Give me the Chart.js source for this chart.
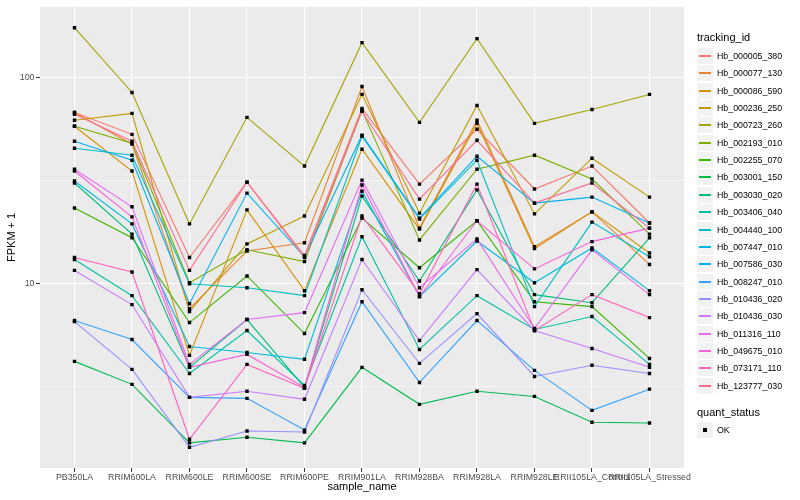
<!DOCTYPE html>
<html><head><meta charset="utf-8">
<script src="https://cdn.jsdelivr.net/npm/chart.js@4.4.0/dist/chart.umd.min.js"></script>
<style>
html,body{margin:0;padding:0;background:#fff;}
#wrap{position:relative;width:800px;height:500px;overflow:hidden;}
#c{position:absolute;left:0;top:0;}
.lg{position:absolute;font-family:"Liberation Sans",Arial,Helvetica,sans-serif;color:#000;white-space:nowrap;}
.lt{font-size:11px;line-height:13px;}
.ll{font-size:8.8px;line-height:10px;}
.key{position:absolute;width:16px;height:16px;background:#F2F2F2;}
.kl{position:absolute;left:2px;width:12px;top:7px;height:1.5px;}
.kp{position:absolute;left:6px;top:6px;width:4px;height:4px;background:#000;}
</style></head><body>
<div id="wrap"><canvas id="c" width="800" height="500" style="width:800px;height:500px"></canvas><div id="legend"></div></div>
<script>
const categories = ["PB350LA","RRIM600LA","RRIM600LE","RRIM600SE","RRIM600PE","RRIM901LA","RRIM928BA","RRIM928LA","RRIM928LE","RRII105LA_Control","RRII105LA_Stressed"];
const trackingIds = ["Hb_000005_380","Hb_000077_130","Hb_000086_590","Hb_000236_250","Hb_000723_260","Hb_002193_010","Hb_002255_070","Hb_003001_150","Hb_003030_020","Hb_003406_040","Hb_004440_100","Hb_007447_010","Hb_007586_030","Hb_008247_010","Hb_010436_020","Hb_010436_030","Hb_011316_110","Hb_049675_010","Hb_073171_110","Hb_123777_030"];
const colors = ["#F8766D","#EA8331","#D89000","#C09B00","#A3A500","#7CAE00","#39B600","#00BB4E","#00BF7D","#00C1A3","#00BFC4","#00BAE0","#00B0F6","#35A2FF","#9590FF","#C77CFF","#E76BF3","#FA62DB","#FF62BC","#FF6C91"];

const hb_000005_380 = [67.7, 53.0, 13.4, 31.1, 13.7, 70.8, 30.4, 56.1, 28.8, 37.2, 19.7];
const hb_000077_130 = [67.7, 47.5, 7.57, 14.4, 15.8, 90.5, 18.6, 62.0, 15.1, 22.3, 12.4];
const hb_000086_590 = [58.0, 35.2, 4.49, 22.8, 9.25, 44.9, 18.4, 59.9, 14.8, 22.3, 14.1];
const hb_000236_250 = [62.0, 67.0, 7.32, 15.6, 21.3, 82.8, 22.0, 73.2, 21.8, 40.6, 26.3];
const hb_000723_260 = [174.4, 84.6, 19.5, 64.1, 37.2, 147.6, 60.6, 154.3, 59.9, 70.0, 82.8];
const hb_002193_010 = [58.0, 48.0, 10.1, 14.6, 12.8, 69.3, 16.3, 35.9, 42.0, 32.2, 17.4];
const hb_002255_070 = [23.3, 16.7, 6.48, 10.9, 5.73, 20.8, 11.95, 20.2, 8.18, 7.74, 4.34];
const hb_003001_150 = [4.20, 3.25, 1.69, 1.80, 1.69, 3.93, 2.60, 3.01, 2.84, 2.13, 2.11];
const hb_003030_020 = [30.8, 17.4, 3.93, 6.70, 3.14, 26.6, 10.3, 28.5, 8.85, 8.09, 16.7];
const hb_003406_040 = [13.1, 8.75, 3.67, 5.93, 3.21, 16.9, 4.80, 8.75, 6.0, 6.93, 4.06];
const hb_004440_100 = [45.4, 42.0, 10.0, 9.56, 8.75, 51.9, 20.6, 39.7, 7.74, 19.9, 13.5];
const hb_007447_010 = [31.5, 19.5, 4.96, 4.64, 4.30, 28.1, 8.66, 16.1, 10.1, 14.9, 9.25];
const hb_007586_030 = [49.1, 39.7, 8.0, 27.5, 13.5, 52.5, 20.8, 41.5, 24.6, 26.3, 19.7];
const hb_008247_010 = [6.63, 5.36, 2.81, 2.78, 1.95, 8.18, 3.32, 6.63, 3.80, 2.43, 3.08];
const hb_010436_020 = [6.55, 3.84, 1.61, 1.93, 1.91, 9.35, 4.11, 7.16, 3.55, 4.02, 3.67];
const hb_010436_030 = [11.6, 7.92, 2.81, 3.01, 2.75, 13.1, 5.30, 11.7, 5.93, 4.85, 3.93];
const hb_011316_110 = [35.9, 23.6, 4.06, 6.70, 7.24, 31.8, 9.56, 16.5, 6.06, 14.6, 8.85];
const hb_049675_010 = [35.2, 21.1, 3.93, 4.54, 3.14, 30.1, 8.66, 20.2, 11.8, 16.0, 18.6];
const hb_073171_110 = [13.4, 11.4, 1.76, 4.06, 3.11, 21.3, 8.95, 30.4, 5.93, 8.85, 6.85];
const hb_123777_030 = [66.3, 49.1, 11.6, 31.1, 13.4, 68.5, 25.7, 49.6, 24.6, 30.8, 18.6];

const seriesValues = [hb_000005_380, hb_000077_130, hb_000086_590, hb_000236_250, hb_000723_260, hb_002193_010, hb_002255_070, hb_003001_150, hb_003030_020, hb_003406_040, hb_004440_100, hb_007447_010, hb_007586_030, hb_008247_010, hb_010436_020, hb_010436_030, hb_011316_110, hb_049675_010, hb_073171_110, hb_123777_030];

const yTickLabels = [10, 100];
const yMinorBreaks = [3.1623, 31.623];
const yLimits = [1.277, 220.3];
const quantStatus = ["OK"];

const FONT = '"Liberation Sans", Arial, Helvetica, sans-serif';

const lineSets = seriesValues.map((vals, k) => ({
  label: trackingIds[k],
  data: vals.map((v, i) => ({x: i, y: v})),
  showLine: true,
  borderColor: colors[k],
  backgroundColor: colors[k],
  borderWidth: 1.1,
  pointRadius: 0,
  pointHoverRadius: 0,
  fill: false,
  tension: 0,
  order: seriesValues.length - k
}));
const pointSet = {
  label: 'points',
  data: seriesValues.flatMap(vals => vals.map((v, i) => ({x: i, y: v}))),
  showLine: false,
  pointStyle: 'rect',
  pointRadius: 2.4,
  pointBackgroundColor: '#000',
  pointBorderWidth: 0,
  order: 0
};

const bgPlugin = {
  id: 'bg',
  beforeDraw(chart) {
    const {ctx, chartArea: a} = chart;
    ctx.save();
    ctx.fillStyle = '#fff';
    ctx.fillRect(0, 0, chart.width, chart.height);
    ctx.fillStyle = '#EBEBEB';
    ctx.fillRect(a.left, a.top, a.right - a.left, a.bottom - a.top);
    ctx.restore();
  }
};

new Chart(document.getElementById('c'), {
  type: 'scatter',
  data: {datasets: [...lineSets, pointSet]},
  plugins: [bgPlugin],
  options: {
    responsive: false,
    animation: false,
    events: [],
    layout: {padding: {top: 5, right: 116, left: 0, bottom: 0}},
    plugins: {legend: {display: false}, tooltip: {enabled: false}},
    scales: {
      x: {
        type: 'linear',
        min: -0.6,
        max: categories.length - 1 + 0.6,
        afterBuildTicks: s => { s.ticks = categories.map((c, i) => ({value: i})); },
        afterFit: s => { s.height = 32; },
        ticks: {autoSkip: false, maxRotation: 0, minRotation: 0, padding: 0,
          callback: v => categories[v], color: '#4D4D4D', font: {family: FONT, size: 8.8}},
        grid: {color: '#FFFFFF', lineWidth: 1.1, drawTicks: true, tickLength: 4, tickColor: '#333333', tickWidth: 1},
        border: {display: false},
        title: {display: true, text: 'sample_name', color: '#000', font: {family: FONT, size: 11}, padding: {top: 0, bottom: 6}}
      },
      y: {
        type: 'logarithmic',
        min: yLimits[0],
        max: yLimits[1],
        afterBuildTicks: s => { s.ticks = [...yMinorBreaks, ...yTickLabels].sort((a, b) => a - b).map(v => ({value: v})); },
        afterFit: s => { s.width = 40; },
        ticks: {padding: 1.5, color: '#4D4D4D', font: {family: FONT, size: 8.8},
          callback: v => yTickLabels.includes(v) ? String(v) : ''},
        grid: {color: '#FFFFFF',
          lineWidth: c => (c.tick && yTickLabels.includes(c.tick.value)) ? 1.1 : 0.55,
          drawTicks: true, tickLength: 4,
          tickColor: c => (c.tick && yTickLabels.includes(c.tick.value)) ? '#333333' : 'rgba(0,0,0,0)',
          tickWidth: 1},
        border: {display: false},
        title: {display: true, text: 'FPKM + 1', color: '#000', font: {family: FONT, size: 11}, padding: {top: 5.4, bottom: 0}}
      }
    }
  }
});

// legend (HTML)
const lg = document.getElementById('legend');
function add(html) { lg.insertAdjacentHTML('beforeend', html); }
const LX = 697, ROW = 17.35, TOP0 = 48;
add(`<div class="lg lt" style="left:${LX}px;top:31px">tracking_id</div>`);
trackingIds.forEach((id, k) => {
  const top = Math.round(TOP0 + k * ROW);
  add(`<div class="key" style="left:${LX}px;top:${top}px"><div class="kl" style="background:${colors[k]}"></div></div>`);
  add(`<div class="lg ll" style="left:${LX + 20}px;top:${top + 3}px">${id}</div>`);
});
const qTop = Math.round(TOP0 + trackingIds.length * ROW + 11);
add(`<div class="lg lt" style="left:${LX}px;top:${qTop}px">quant_status</div>`);
quantStatus.forEach((q, k) => {
  const top = qTop + 16 + Math.round(k * ROW);
  add(`<div class="key" style="left:${LX}px;top:${top}px"><div class="kp"></div></div>`);
  add(`<div class="lg ll" style="left:${LX + 20}px;top:${top + 3}px">${q}</div>`);
});
</script>
</body></html>
